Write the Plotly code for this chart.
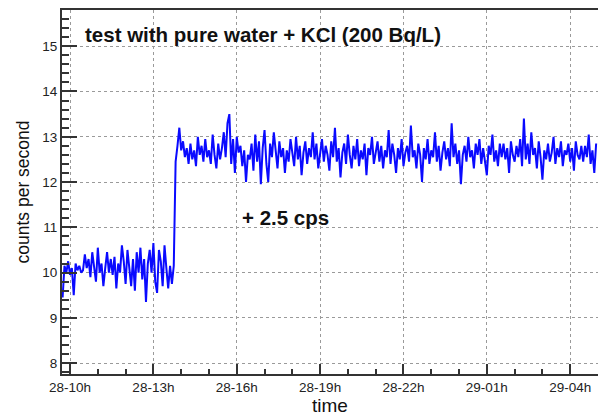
import plotly.graph_objects as go
import pandas as pd

start_time = "2014-05-28 09:44"
step_minutes = 4

low_values = [
    9.45, 10.15, 10.0, 10.25, 9.95, 10.1, 9.5, 10.2, 10.05, 10.15,
    10.0, 10.05, 10.4, 10.1, 10.3, 9.9, 10.45, 10.05, 9.8, 10.55,
    10.0, 10.2, 9.7, 10.1, 10.45, 10.0, 10.3, 9.95, 10.35, 9.65,
    10.2, 10.0, 10.6, 10.25, 9.75, 10.5, 10.1, 9.7, 10.3, 9.6,
    10.45, 10.0, 10.55, 9.85, 10.3, 9.35, 10.2, 10.5, 10.0, 10.65,
    9.8, 9.55, 10.5, 10.25, 9.7, 10.6, 10.1, 9.65, 10.15, 9.75,
    10.15,
]

high_values = [
    12.45, 12.8, 13.2, 12.7, 12.9, 12.55, 12.75, 12.4, 12.85, 12.5,
    12.7, 12.35, 13.0, 12.6, 12.8, 12.45, 12.95, 12.55, 12.7, 12.4,
    13.05, 12.6, 12.3, 12.85, 12.5, 12.75, 13.1, 12.55, 13.3, 13.5,
    12.4, 12.95, 12.2, 13.0, 12.65, 12.8, 12.35, 12.7, 12.0, 12.6,
    12.5, 12.85, 12.25, 13.05, 12.45, 12.9, 11.95, 12.75, 13.15, 12.4,
    12.0, 12.85, 12.55, 13.1, 12.65, 12.3, 12.9, 12.55, 12.75, 12.2,
    12.7, 12.45, 12.95, 12.6, 12.35, 13.0, 12.5, 12.8, 12.15, 12.65,
    12.9, 12.4, 12.75, 12.55, 13.1, 12.5, 12.85, 12.3, 12.7, 12.95,
    12.45, 12.8, 12.6, 12.25, 12.9, 12.55, 13.2, 12.45, 12.75, 12.1,
    12.65, 12.85, 12.4, 13.05, 12.6, 12.3, 12.8, 12.5, 12.95, 12.35,
    12.7, 12.5, 12.85, 12.15, 12.75, 12.6, 13.0, 12.4, 12.65, 12.9,
    12.45, 12.8, 12.3, 12.7, 12.55, 13.15, 12.4, 12.85, 12.6, 12.2,
    12.75, 12.5, 12.95, 12.35, 12.65, 12.8, 12.45, 13.25, 12.55, 12.7,
    12.3, 12.85, 12.6, 12.0, 12.75, 12.5, 12.95, 12.4, 12.7, 12.55,
    13.1, 12.45, 12.8, 12.25, 12.65, 12.9, 12.5, 12.75, 12.35, 13.3,
    12.55, 12.85, 12.4, 12.7, 11.95, 12.6, 12.8, 12.45, 13.0, 12.55,
    12.7, 12.3, 12.85, 12.6, 12.95, 12.4, 12.75, 12.5, 12.15, 12.8,
    12.6, 13.05, 12.45, 12.7, 12.35, 12.85, 12.55, 12.85, 12.5, 12.75,
    12.2, 12.9, 12.6, 12.45, 12.8, 12.55, 12.95, 12.35, 13.4, 12.5,
    12.85, 12.4, 13.1, 12.6, 12.75, 12.3, 12.9, 12.55, 12.05, 12.7,
    12.5, 12.85, 12.45, 12.65, 13.0, 12.4, 12.75, 12.55, 12.9, 12.35,
    12.7, 12.6, 12.85, 12.45, 12.75, 12.25, 12.9, 12.6, 12.5, 12.8,
    12.45, 12.8, 12.55, 13.05, 12.4, 12.7, 12.2, 12.85,
]

counts = low_values + high_values
times = pd.date_range(start_time, periods=len(counts), freq=f"{step_minutes}min")

title_text = "test with pure water + KCl (200 Bq/L)"
step_text = "+ 2.5 cps"

font_family = "Liberation Sans, Arial, Helvetica, sans-serif"

fig = go.Figure()
fig.add_trace(go.Scatter(
    x=times, y=counts, mode="lines",
    line=dict(color="#0a0aff", width=2),
    showlegend=False,
))

fig.update_layout(
    width=598, height=416,
    margin=dict(l=62, r=0, t=10, b=42),
    paper_bgcolor="white", plot_bgcolor="white",
    font=dict(family=font_family, color="#222222"),
    xaxis=dict(
        type="date",
        range=["2014-05-28 09:42:40", "2014-05-29 05:00"],
        tick0="2014-05-28 10:00", dtick=3 * 3600000,
        tickformat="%d-%Hh",
        ticks="inside", ticklen=10, tickwidth=1.5, tickcolor="#333333",
        showline=True, linecolor="#333333", linewidth=2, mirror=True,
        showgrid=True, gridcolor="#9a9a9a", griddash="dot", gridwidth=1,
        minor=dict(dtick=3600000, tick0="2014-05-28 10:00", ticks="inside", ticklen=5,
                   tickcolor="#333333", showgrid=False),
        tickfont=dict(size=13.5, color="#222222"),
        title=dict(text="time", font=dict(size=19, color="#111111"), standoff=2),
        zeroline=False,
    ),
    yaxis=dict(
        range=[7.76, 15.8],
        tick0=8, dtick=1,
        ticks="inside", ticklen=15, tickwidth=1.5, tickcolor="#333333",
        showline=True, linecolor="#333333", linewidth=2,
        showgrid=True, gridcolor="#9a9a9a", griddash="dot", gridwidth=1,
        minor=dict(dtick=0.2, tick0=8, ticks="inside", ticklen=7,
                   tickcolor="#333333", showgrid=False),
        tickfont=dict(size=13.5, color="#222222"),
        title=dict(text="counts per second", font=dict(size=17.5, color="#111111"), standoff=8),
        zeroline=False,
    ),
)

fig.add_annotation(
    text=f"<b>{title_text}</b>", xref="paper", yref="paper",
    x=0.039, y=0.933, xanchor="left", yanchor="middle", showarrow=False,
    font=dict(size=20.5, color="#111111", family=font_family),
)
fig.add_annotation(
    text=f"<b>{step_text}</b>", xref="paper", yref="paper",
    x=0.332, y=0.43, xanchor="left", yanchor="middle", showarrow=False,
    font=dict(size=20.5, color="#111111", family=font_family),
)

fig.write_html("out.html")
